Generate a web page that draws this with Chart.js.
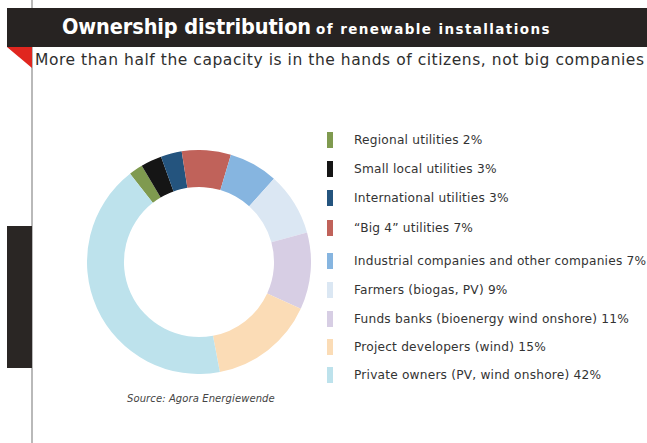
<!DOCTYPE html>
<html>
<head>
<meta charset="utf-8">
<script src="https://cdn.jsdelivr.net/npm/chart.js@4/dist/chart.umd.min.js"></script>
<style>
html,body{margin:0;padding:0;background:#fff;}
body{width:647px;height:443px;overflow:hidden;position:relative;font-family:"DejaVu Sans",sans-serif;}
#vline{position:absolute;left:31px;top:0;width:2px;height:443px;background:#b9b9b9;}
#header{position:absolute;left:7px;top:8px;width:640px;height:39px;background:#272322;}
#title{position:absolute;left:62px;top:14px;color:#fff;white-space:nowrap;}
#title .big{font-family:"DejaVu Sans Condensed","DejaVu Sans",sans-serif;font-weight:bold;font-size:21.5px;letter-spacing:-0.1px;}
#title .small{font-family:"DejaVu Sans",sans-serif;font-weight:bold;font-size:13.5px;letter-spacing:1.4px;}
#tri{position:absolute;left:7px;top:47px;width:0;height:0;border-top:21px solid #e0261f;border-left:25px solid transparent;}
#subtitle{position:absolute;left:35px;top:51px;font-size:15.5px;color:#2e2e2e;white-space:nowrap;letter-spacing:0.55px;}
#block{position:absolute;left:7px;top:226px;width:25px;height:142px;background:#2a2624;}
#chartwrap{position:absolute;left:87px;top:150px;width:224px;height:224px;}
#legend{position:absolute;left:327px;top:0;}
.item{position:absolute;left:0;white-space:nowrap;}
.sw{position:absolute;left:0;width:6px;height:16px;}
.lt{position:absolute;left:27px;font-size:12.2px;color:#333;line-height:16px;top:0;letter-spacing:0.2px;}
#source{position:absolute;left:127px;top:393px;font-style:italic;font-size:10px;color:#444;white-space:nowrap;letter-spacing:0.1px;}
</style>
</head>
<body>
<div id="vline"></div>
<div id="header"></div>
<div id="title"><span class="big">Ownership distribution</span> <span class="small">of renewable installations</span></div>
<div id="tri"></div>
<div id="subtitle">More than half the capacity is in the hands of citizens, not big companies</div>
<div id="block"></div>
<div id="chartwrap"><canvas id="c" width="224" height="224"></canvas></div>
<div id="legend"></div>
<div id="source">Source: Agora Energiewende</div>
<script>
const categories = [
  "Regional utilities",
  "Small local utilities",
  "International utilities",
  "\u201cBig 4\u201d utilities",
  "Industrial companies and other companies",
  "Farmers (biogas, PV)",
  "Funds banks (bioenergy wind onshore)",
  "Project developers (wind)",
  "Private owners (PV, wind onshore)"
];
const shares = [2, 3, 3, 7, 7, 9, 11, 15, 42];
const colors = ["#7f9a4f","#151515","#24547e","#c0625a","#86b5e0","#dbe7f3","#d7cee4","#fbdcb6","#bde2ec"];

const legendTops = [132, 161, 190, 220, 253, 282, 311, 339, 367];
const legend = document.getElementById('legend');
categories.forEach((c, i) => {
  const it = document.createElement('div');
  it.className = 'item';
  it.style.top = legendTops[i] + 'px';
  const sw = document.createElement('div');
  sw.className = 'sw';
  sw.style.background = colors[i];
  const t = document.createElement('div');
  t.className = 'lt';
  t.textContent = c + ' ' + shares[i] + '%';
  it.appendChild(sw); it.appendChild(t);
  legend.appendChild(it);
});

new Chart(document.getElementById('c'), {
  type: 'doughnut',
  data: {
    labels: categories,
    datasets: [{ data: shares, backgroundColor: colors, borderWidth: 0 }]
  },
  options: {
    responsive: false,
    animation: false,
    rotation: -38,
    cutout: '67%',
    layout: { padding: 0 },
    plugins: { legend: { display: false }, tooltip: { enabled: false } }
  }
});
</script>
</body>
</html>
